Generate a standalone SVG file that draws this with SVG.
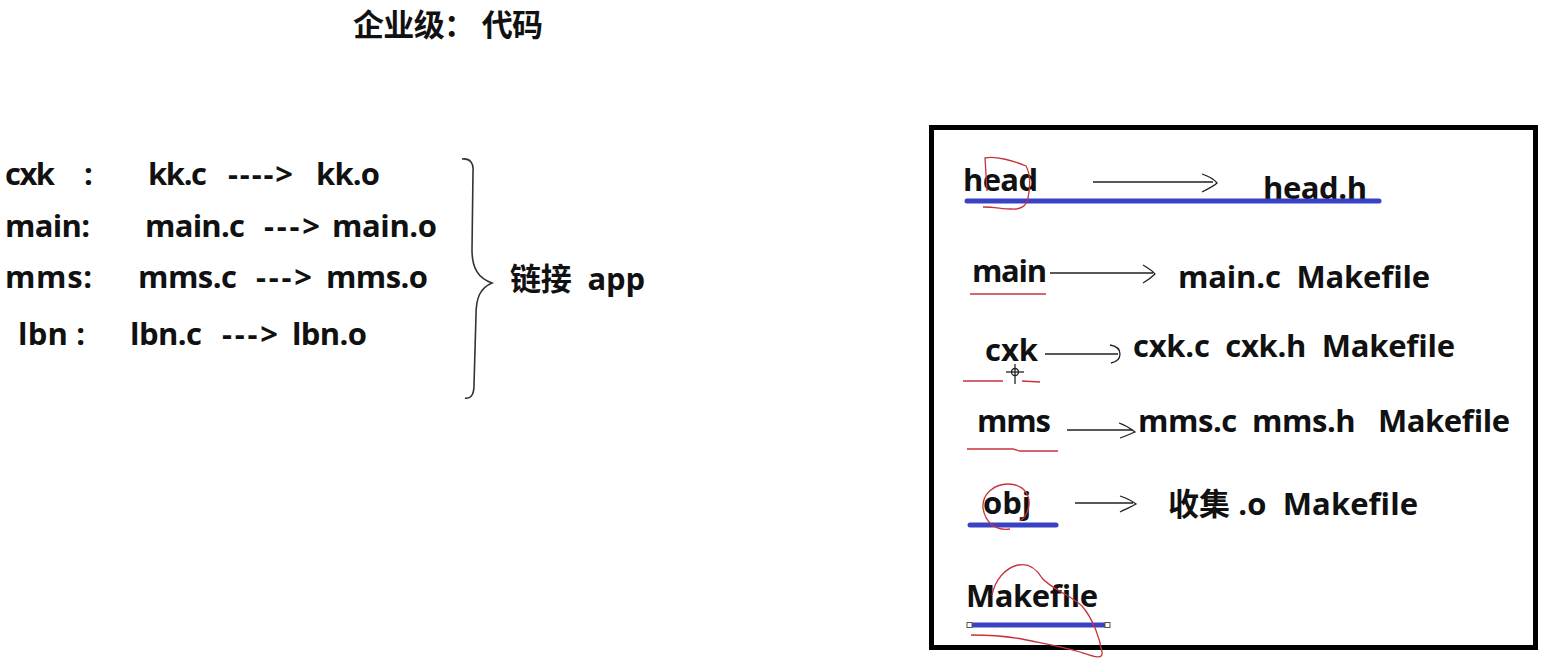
<svg xmlns="http://www.w3.org/2000/svg" width="1551" height="668" viewBox="0 0 1551 668">
<style>
.t{font-family:"Open Sans","Noto Sans CJK SC",sans-serif;font-weight:bold;font-size:31px;fill:#111;white-space:pre}
.ar{fill:none;stroke:#222;stroke-width:1.3}
.blue{stroke:#3a42c4;stroke-width:5;stroke-linecap:round;fill:none}
.red{stroke:#c8323c;stroke-width:1.3;fill:none}
</style>
<rect width="1551" height="668" fill="#fff"/>
<g id="title"><text class="t" x="353" y="36" textLength="190" lengthAdjust="spacing">企业级： 代码</text></g>
<g id="left">
<text class="t" x="5" y="185" textLength="50">cxk</text><text class="t" x="84" y="185">:</text>
<text class="t" x="148" y="185" textLength="59">kk.c</text><text class="t" x="228" y="185" textLength="65">----&gt;</text><text class="t" x="316" y="185" textLength="64">kk.o</text>
<text class="t" x="5" y="237" textLength="85">main:</text>
<text class="t" x="145" y="237" textLength="100">main.c</text><text class="t" x="264" y="237" textLength="56">---&gt;</text><text class="t" x="332" y="237" textLength="105">main.o</text>
<text class="t" x="5" y="288" textLength="87">mms:</text>
<text class="t" x="138" y="288" textLength="99">mms.c</text><text class="t" x="256" y="288" textLength="56">---&gt;</text><text class="t" x="326" y="288" textLength="102">mms.o</text>
<text class="t" x="18" y="345" textLength="67">lbn :</text>
<text class="t" x="130" y="345" textLength="72">lbn.c</text><text class="t" x="222" y="345" textLength="56">---&gt;</text><text class="t" x="292" y="345" textLength="75">lbn.o</text>
</g>
<g id="brace"><path d="M462,159 C470,158 474,163 473,172 L472,250 C472,268 478,278 492,283 C480,288 476,298 476,315 L474,385 C474,396 470,399 465,398" fill="none" stroke="#333" stroke-width="1.6"/>
<text class="t" x="510" y="290" textLength="135" lengthAdjust="spacing">链接  app</text></g>
<g id="box"><rect x="931.5" y="127.5" width="604" height="520" fill="none" stroke="#000" stroke-width="5"/></g>
<g id="head">
<text class="t" x="963" y="191" textLength="75">head</text>
<text class="t" x="1263" y="199" textLength="104">head.h</text>
<line class="blue" x1="967" y1="201" x2="1379" y2="201"/>
<path class="red" d="M987,191 L985,158 C995,156 1012,160 1026,166 C1031,175 1030,188 1028,198 C1027,206 1020,210 1011,209 C1002,209 995,207 983,207"/>
</g>
<g id="main">
<text class="t" x="972" y="282" textLength="75">main</text>
<line class="red" x1="970" y1="294" x2="1046" y2="294"/>
<text class="t" x="1178" y="288" textLength="252" lengthAdjust="spacing">main.c  Makefile</text>
</g>
<g id="cxk">
<text class="t" x="985" y="361">cxk</text>
<path class="red" d="M963,381 L1003,381 M1022,381 L1040,382"/>
<g stroke="#222" stroke-width="1.3" fill="none"><circle cx="1015" cy="372" r="3.5"/><line x1="1015" y1="364" x2="1015" y2="384"/><line x1="1006" y1="372" x2="1024" y2="372"/></g>
<text class="t" x="1133" y="357" textLength="322" lengthAdjust="spacing">cxk.c  cxk.h  Makefile</text>
</g>
<g id="mms">
<text class="t" x="977" y="432" textLength="74">mms</text>
<path class="red" d="M967,449 L1013,449 L1020,451 L1058,451"/>
<text class="t" x="1138" y="432" textLength="372" lengthAdjust="spacing">mms.c  mms.h   Makefile</text>
</g>
<g id="obj">
<text class="t" x="983" y="514">obj</text>
<line class="blue" x1="970" y1="525" x2="1056" y2="525"/>
<path class="red" d="M1010,529 C995,531 985,522 983,508 C982,494 994,484 1008,484 C1022,484 1030,493 1029,505 C1028,512 1025,518 1020,521"/>
<text class="t" x="1168" y="515" textLength="250" lengthAdjust="spacing">收集 .o  Makefile</text>
</g>
<g id="makefile">
<text class="t" x="966" y="607" textLength="132">Makefile</text>
<line x1="970" y1="625" x2="1107" y2="625" stroke="#3a42c4" stroke-width="5"/>
<rect x="967" y="622.5" width="5" height="5" fill="#fff" stroke="#555" stroke-width="1"/>
<rect x="1105" y="622.5" width="5" height="5" fill="#fff" stroke="#555" stroke-width="1"/>
<path class="red" d="M992,595 C995,580 1005,568 1018,565 C1028,563 1036,568 1042,578 C1050,588 1070,595 1082,606 C1094,620 1100,640 1102,652 C1103,660 1095,657 1080,652 C1060,646 1040,643 1022,639 C1005,636 985,635 971,635"/>
</g>
<g id="connectors">
<path class="ar" d="M1093,182 L1213,182 M1202,174 C1208,176 1214,179 1217,183 C1214,186 1208,189 1202,192"/>
<path class="ar" d="M1050,273 L1153,273 M1143,265 C1148,268 1153,271 1155,274 C1152,277 1148,280 1143,283"/>
<path class="ar" d="M1045,354 L1118,354 M1110,345 C1116,346 1120,349 1120,354 C1120,359 1116,362 1111,363"/>
<path class="ar" d="M1067,430 L1133,430 M1119,423 C1125,425 1130,428 1135,432 C1130,434 1126,436 1120,438"/>
<path class="ar" d="M1075,503 L1133,503 M1120,496 C1126,498 1131,500 1136,504 C1131,507 1126,509 1120,512"/>
</g>
</svg>
